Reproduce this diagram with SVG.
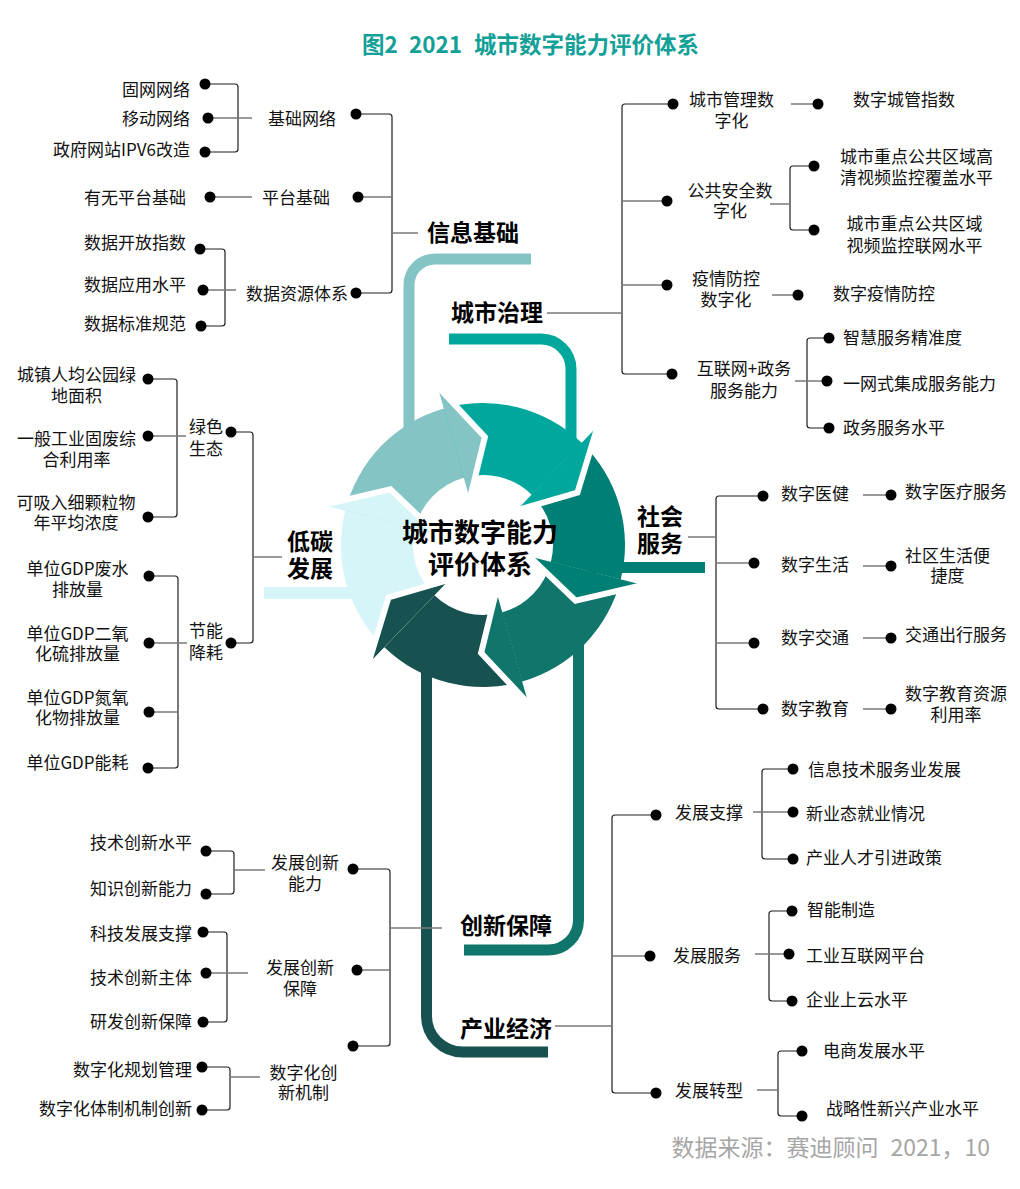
<svg xmlns="http://www.w3.org/2000/svg" width="1020" height="1189" viewBox="0 0 1020 1189">
<style>
text{font-family:"Noto Sans CJK SC","Noto Sans",sans-serif;font-size:17px;fill:#111}
.b{font-weight:700;font-size:23px;fill:#000}
.c{font-weight:700;font-size:26px;fill:#000;text-anchor:middle}
.m{text-anchor:middle}
.e{text-anchor:end}
.br{fill:none;stroke:#1e1e1e;stroke-width:1.2}
.st{fill:none;stroke:#7a7a7a;stroke-width:1.6}
.thick{fill:none;stroke-width:11}
.gap{fill:none;stroke:#fff;stroke-width:6;stroke-linejoin:miter}
circle{fill:#000}
</style>
<rect width="1020" height="1189" fill="#fff"/>
<g id="title">
<text x="362" y="52.5" style="font-size:22.5px;font-weight:700;fill:#12A097">图2<tspan x="409">2021</tspan><tspan x="474">城市数字能力评价体系</tspan></text>
</g>
<g id="connectors">
<path class="thick" stroke="#84C4C5" d="M409 440 V285 A26 26 0 0 1 435 259 H531"/>
<path class="thick" stroke="#00A79D" d="M449 339 H541 A30 30 0 0 1 571 369 V450"/>
<path class="thick" stroke="#008074" d="M590 567.5 H705"/>
<path class="thick" stroke="#10756A" d="M578.5 630 V920 A30 30 0 0 1 548.5 950 H464"/>
<path class="thick" stroke="#175250" d="M426.5 650 V1016 A36 36 0 0 0 462.5 1052 H548"/>
<path class="thick" stroke="#D5F5F8" d="M264 593 H380" style="stroke-width:12"/>
<path class="br" d="M205 84 H235 Q238 84 238 87 V149 Q238 152 235 152 H205"/>
<path class="br" d="M200 249 H222 Q225 249 225 252 V323 Q225 326 222 326 H201"/>
<path class="br" d="M356 114 H389 Q392 114 392 117 V290 Q392 293 389 293 H356"/>
<path class="st" d="M208 118 H252 M210 197 H252 M203 290 H236 M358 197 H392 M392 233 H418"/>
<path class="br" d="M673 104 H625 Q622 104 622 107 V371 Q622 374 625 374 H672"/>
<path class="br" d="M814 166 H793 Q790 166 790 169 V227 Q790 230 793 230 H814"/>
<path class="br" d="M829 338 H810 Q807 338 807 341 V425 Q807 428 810 428 H829"/>
<path class="st" d="M547 313 H622 M622 201 H667 M622 285 H667 M791 104 H818 M770 204 H790 M772 295 H798 M795 381 H827"/>
<path class="br" d="M148 379 H174 Q177 379 177 382 V514 Q177 517 174 517 H148"/>
<path class="br" d="M149 576 H175 Q178 576 178 579 V765 Q178 768 175 768 H148"/>
<path class="br" d="M231 432 H250 Q253 432 253 435 V640 Q253 643 250 643 H231"/>
<path class="st" d="M148 436 H186 M149 643 H187 M149 712 H178 M253 557 H282"/>
<path class="br" d="M763 496 H719 Q716 496 716 499 V706 Q716 709 719 709 H763"/>
<path class="st" d="M688 537 H716 M716 563 H754 M716 643 H754 M863 495 H891 M863 566 H891 M863 638 H891 M863 709 H891"/>
<path class="br" d="M206 851 H231 Q234 851 234 854 V891 Q234 894 231 894 H206"/>
<path class="br" d="M203 932 H224 Q227 932 227 935 V1019 Q227 1022 224 1022 H203"/>
<path class="br" d="M353 869 H387 Q390 869 390 872 V1043 Q390 1046 387 1046 H353"/>
<path class="br" d="M202 1067 H227 Q230 1067 230 1070 V1107 Q230 1110 227 1110 H202"/>
<path class="st" d="M234 870 H265 M206 973 H248 M357 970 H390 M390 928 H442 M230 1077 H260"/>
<path class="br" d="M656 815 H615 Q612 815 612 818 V1090 Q612 1093 615 1093 H656"/>
<path class="br" d="M793 769 H765 Q762 769 762 772 V856 Q762 859 765 859 H793"/>
<path class="br" d="M792 911 H772 Q769 911 769 914 V998 Q769 1001 772 1001 H792"/>
<path class="br" d="M802 1051 H781 Q778 1051 778 1054 V1113 Q778 1116 781 1116 H802"/>
<path class="st" d="M555 1026 H612 M612 956 H650 M753 812 H793 M755 954 H789 M757 1090 H778"/>
</g>
<g id="center">
<path fill="#84C4C5" d="M345.22 510.65 A142 142 0 0 1 443.86 408.50 L463.71 477.71 A70 70 0 0 0 415.08 528.07 Z"/>
<path fill="#00A79D" d="M443.86 408.50 A142 142 0 0 1 581.64 442.85 L531.63 494.65 A70 70 0 0 0 463.71 477.71 Z"/>
<path fill="#008074" d="M581.64 442.85 A142 142 0 0 1 620.78 579.35 L550.92 561.93 A70 70 0 0 0 531.63 494.65 Z"/>
<path fill="#10756A" d="M620.78 579.35 A142 142 0 0 1 522.14 681.50 L502.29 612.29 A70 70 0 0 0 550.92 561.93 Z"/>
<path fill="#175250" d="M522.14 681.50 A142 142 0 0 1 384.36 647.15 L434.37 595.35 A70 70 0 0 0 502.29 612.29 Z"/>
<path fill="#D5F5F8" d="M384.36 647.15 A142 142 0 0 1 345.22 510.65 L415.08 528.07 A70 70 0 0 0 434.37 595.35 Z"/>
<polygon fill="#84C4C5" points="437.52,386.39 484.88,437.02 469.77,498.86"/>
<polygon fill="#00A79D" points="597.62,426.31 577.46,492.64 516.34,510.47"/>
<polygon fill="#008074" points="643.10,584.92 575.57,600.62 529.57,556.61"/>
<polygon fill="#10756A" points="528.48,703.61 481.12,652.98 496.23,591.14"/>
<polygon fill="#175250" points="368.38,663.69 388.54,597.36 449.66,579.53"/>
<polygon fill="#D5F5F8" points="322.90,505.08 390.43,489.38 436.43,533.39"/>
<polyline class="gap" points="437.52,386.39 484.88,437.02 469.77,498.86"/>
<polyline class="gap" points="597.62,426.31 577.46,492.64 516.34,510.47"/>
<polyline class="gap" points="643.10,584.92 575.57,600.62 529.57,556.61"/>
<polyline class="gap" points="528.48,703.61 481.12,652.98 496.23,591.14"/>
<polyline class="gap" points="368.38,663.69 388.54,597.36 449.66,579.53"/>
<polyline class="gap" points="322.90,505.08 390.43,489.38 436.43,533.39"/>
<text class="c" x="480" y="541.9">城市数字能力<tspan x="480" dy="32">评价体系</tspan></text>
</g>
<g id="cat-info"><text class="b" x="427" y="240.7">信息基础</text></g>
<g id="cat-gov"><text class="b" x="451" y="320.7">城市治理</text></g>
<g id="cat-social"><text class="b" x="637" y="524.7">社会<tspan x="637" dy="27">服务</tspan></text></g>
<g id="cat-low"><text class="b" x="287" y="549.7">低碳<tspan x="287" dy="27">发展</tspan></text></g>
<g id="cat-innov"><text class="b" x="460" y="933.7">创新保障</text></g>
<g id="cat-ind"><text class="b" x="460" y="1036.7">产业经济</text></g>

<g id="n-jcwl"><text x="268" y="124.5">基础网络</text><circle cx="356" cy="114" r="5.5"/></g>
<g id="n-gwwl"><text class="e" x="190" y="95.5">固网网络</text><circle cx="205" cy="84" r="5.5"/></g>
<g id="n-ydwl"><text class="e" x="190" y="124.5">移动网络</text><circle cx="208" cy="118" r="5.5"/></g>
<g id="n-ipv6"><text class="e" x="190" y="155.5">政府网站IPV6改造</text><circle cx="205" cy="152" r="5.5"/></g>
<g id="n-ptjc"><text x="262" y="203.5">平台基础</text><circle cx="358" cy="197" r="5.5"/></g>
<g id="n-ywpt"><text class="e" x="186" y="203.5">有无平台基础</text><circle cx="210" cy="197" r="5.5"/></g>
<g id="n-sjzy"><text x="246" y="299.5">数据资源体系</text><circle cx="356" cy="293" r="5.5"/></g>
<g id="n-sjkf"><text class="e" x="186" y="248.5">数据开放指数</text><circle cx="200" cy="249" r="5.5"/></g>
<g id="n-sjyy"><text class="e" x="186" y="290.5">数据应用水平</text><circle cx="203" cy="290" r="5.5"/></g>
<g id="n-sjbz"><text class="e" x="186" y="329.5">数据标准规范</text><circle cx="201" cy="326" r="5.5"/></g>

<g id="n-csgl"><text class="m" x="731.5" y="105.5">城市管理数<tspan x="731.5" dy="21">字化</tspan></text><circle cx="673" cy="104" r="5.5"/></g>
<g id="n-szcg"><text x="853" y="105.5">数字城管指数</text><circle cx="818" cy="104" r="5.5"/></g>
<g id="n-ggaq"><text class="m" x="730" y="196.5">公共安全数<tspan x="730" dy="20">字化</tspan></text><circle cx="667" cy="201" r="5.5"/></g>
<g id="n-gqjk"><text class="m" x="916.5" y="162.5">城市重点公共区域高<tspan x="916.5" dy="21">清视频监控覆盖水平</tspan></text><circle cx="814" cy="166" r="5.5"/></g>
<g id="n-lwjk"><text class="m" x="914.5" y="229.5">城市重点公共区域<tspan x="914.5" dy="22">视频监控联网水平</tspan></text><circle cx="814" cy="230" r="5.5"/></g>
<g id="n-yqfk"><text class="m" x="726" y="284.5">疫情防控<tspan x="726" dy="21">数字化</tspan></text><circle cx="667" cy="285" r="5.5"/></g>
<g id="n-szyq"><text x="833" y="299.5">数字疫情防控</text><circle cx="798" cy="295" r="5.5"/></g>
<g id="n-hlw"><text class="m" x="744" y="374.5">互联网+政务<tspan x="744" dy="22">服务能力</tspan></text><circle cx="672" cy="374" r="5.5"/></g>
<g id="n-zhfw"><text x="843" y="343.5">智慧服务精准度</text><circle cx="829" cy="338" r="5.5"/></g>
<g id="n-ywsjc"><text x="843" y="389.5">一网式集成服务能力</text><circle cx="827" cy="381" r="5.5"/></g>
<g id="n-zwfw"><text x="843" y="433.5">政务服务水平</text><circle cx="829" cy="428" r="5.5"/></g>

<g id="n-lsst"><text x="189" y="432.5">绿色<tspan x="189" dy="22">生态</tspan></text><circle cx="231" cy="432" r="5.5"/></g>
<g id="n-gylh"><text class="m" x="76.5" y="380.5">城镇人均公园绿<tspan x="76.5" dy="21">地面积</tspan></text><circle cx="148" cy="379" r="5.5"/></g>
<g id="n-gyfl"><text class="m" x="76.5" y="444.5">一般工业固废综<tspan x="76.5" dy="21">合利用率</tspan></text><circle cx="148" cy="436" r="5.5"/></g>
<g id="n-klw"><text class="m" x="76" y="508.5">可吸入细颗粒物<tspan x="76" dy="20">年平均浓度</tspan></text><circle cx="148" cy="517" r="5.5"/></g>
<g id="n-jnjh"><text x="189" y="636.5">节能<tspan x="189" dy="22">降耗</tspan></text><circle cx="231" cy="643" r="5.5"/></g>
<g id="n-fs"><text class="m" x="77.5" y="574.5">单位GDP废水<tspan x="77.5" dy="21">排放量</tspan></text><circle cx="149" cy="576" r="5.5"/></g>
<g id="n-eyh"><text class="m" x="77.5" y="639.5">单位GDP二氧<tspan x="77.5" dy="20">化硫排放量</tspan></text><circle cx="149" cy="643" r="5.5"/></g>
<g id="n-dyh"><text class="m" x="77.5" y="703.5">单位GDP氮氧<tspan x="77.5" dy="20">化物排放量</tspan></text><circle cx="149" cy="712" r="5.5"/></g>
<g id="n-nh"><text class="m" x="77.5" y="768.5">单位GDP能耗</text><circle cx="148" cy="768" r="5.5"/></g>

<g id="n-szyj"><text x="781" y="499.5">数字医健</text><circle cx="763" cy="496" r="5.5"/></g>
<g id="n-szylfw"><text x="905" y="497.5">数字医疗服务</text><circle cx="891" cy="495" r="5.5"/></g>
<g id="n-szsh"><text x="781" y="570.5">数字生活</text><circle cx="754" cy="563" r="5.5"/></g>
<g id="n-sqsh"><text class="m" x="947.5" y="561.5">社区生活便<tspan x="947.5" dy="20">捷度</tspan></text><circle cx="891" cy="566" r="5.5"/></g>
<g id="n-szjt"><text x="781" y="643.5">数字交通</text><circle cx="754" cy="643" r="5.5"/></g>
<g id="n-jtcx"><text x="905" y="640.5">交通出行服务</text><circle cx="891" cy="638" r="5.5"/></g>
<g id="n-szjy"><text x="781" y="714.5">数字教育</text><circle cx="763" cy="709" r="5.5"/></g>
<g id="n-jyzy"><text class="m" x="956" y="699.5">数字教育资源<tspan x="956" dy="21">利用率</tspan></text><circle cx="891" cy="709" r="5.5"/></g>

<g id="n-fzcxnl"><text class="m" x="305" y="868.5">发展创新<tspan x="305" dy="21">能力</tspan></text><circle cx="353" cy="869" r="5.5"/></g>
<g id="n-jscxsp"><text class="e" x="192" y="848.5">技术创新水平</text><circle cx="206" cy="851" r="5.5"/></g>
<g id="n-zscx"><text class="e" x="192" y="894.5">知识创新能力</text><circle cx="206" cy="894" r="5.5"/></g>
<g id="n-fzcxbz"><text class="m" x="300" y="973.5">发展创新<tspan x="300" dy="21">保障</tspan></text><circle cx="357" cy="970" r="5.5"/></g>
<g id="n-kjfz"><text class="e" x="192" y="939.5">科技发展支撑</text><circle cx="203" cy="932" r="5.5"/></g>
<g id="n-jscxzt"><text class="e" x="192" y="983.5">技术创新主体</text><circle cx="206" cy="973" r="5.5"/></g>
<g id="n-yfcx"><text class="e" x="192" y="1027.5">研发创新保障</text><circle cx="203" cy="1022" r="5.5"/></g>
<g id="n-szhcx"><text class="m" x="303.5" y="1078.5">数字化创<tspan x="303.5" dy="20">新机制</tspan></text><circle cx="353" cy="1046" r="5.5"/></g>
<g id="n-szhgh"><text class="e" x="192" y="1075.5">数字化规划管理</text><circle cx="202" cy="1067" r="5.5"/></g>
<g id="n-szhtz"><text class="e" x="192" y="1114.5">数字化体制机制创新</text><circle cx="202" cy="1110" r="5.5"/></g>

<g id="n-fzzc"><text x="675" y="818.5">发展支撑</text><circle cx="656" cy="815" r="5.5"/></g>
<g id="n-xxjs"><text x="808" y="775.5">信息技术服务业发展</text><circle cx="793" cy="769" r="5.5"/></g>
<g id="n-xyt"><text x="806" y="819.5">新业态就业情况</text><circle cx="793" cy="812" r="5.5"/></g>
<g id="n-cyrc"><text x="806" y="863.5">产业人才引进政策</text><circle cx="793" cy="859" r="5.5"/></g>
<g id="n-fzfw"><text x="673" y="961.5">发展服务</text><circle cx="650" cy="956" r="5.5"/></g>
<g id="n-znzz"><text x="807" y="915.5">智能制造</text><circle cx="792" cy="911" r="5.5"/></g>
<g id="n-gyhlw"><text x="806" y="961.5">工业互联网平台</text><circle cx="789" cy="954" r="5.5"/></g>
<g id="n-qysy"><text x="806" y="1005.5">企业上云水平</text><circle cx="792" cy="1001" r="5.5"/></g>
<g id="n-fzzx"><text x="675" y="1096.5">发展转型</text><circle cx="656" cy="1093" r="5.5"/></g>
<g id="n-dsfz"><text x="823" y="1056.5">电商发展水平</text><circle cx="802" cy="1051" r="5.5"/></g>
<g id="n-zlxx"><text x="826" y="1114.5">战略性新兴产业水平</text><circle cx="802" cy="1116" r="5.5"/></g>

<g id="source"><text class="e" x="990" y="1155.5" style="font-size:23px;fill:#A6A6A6">数据来源：赛迪顾问<tspan dx="12">2021，10</tspan></text></g>
</svg>
